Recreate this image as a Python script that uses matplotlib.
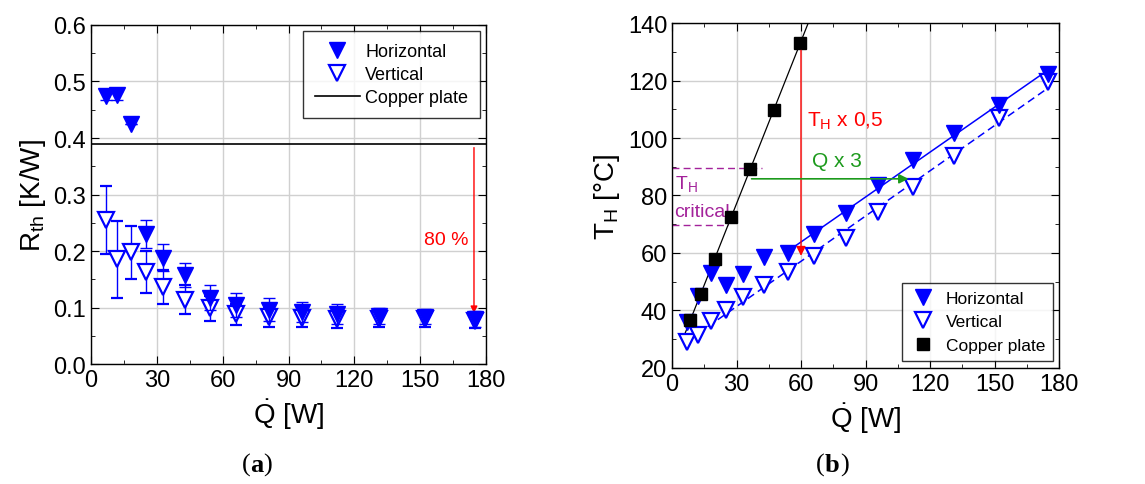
import numpy as np
import matplotlib
matplotlib.use("Agg")
import matplotlib.pyplot as plt
from matplotlib.ticker import MultipleLocator
from matplotlib.lines import Line2D

plt.rcParams['font.family'] = ['Liberation Sans', 'DejaVu Sans']
plt.rcParams['mathtext.fontset'] = 'custom'
plt.rcParams['mathtext.rm'] = 'Liberation Sans'
plt.rcParams['mathtext.it'] = 'Liberation Sans'

# ---- panel (a): thermal resistance ----
q_hor_a = [7, 12, 18, 25, 33, 43, 54, 66, 81, 96, 112, 131, 152, 175]
r_hor = [0.475, 0.476, 0.425, 0.23, 0.188, 0.158, 0.117, 0.105, 0.096, 0.092,
         0.089, 0.085, 0.084, 0.08]
r_hor_err = [0.008, 0.008, 0.0, 0.025, 0.024, 0.021, 0.022, 0.021, 0.02, 0.018,
             0.018, 0.015, 0.014, 0.014]
q_ver_a = [7, 12, 18, 25, 33, 43, 54, 66, 81, 96, 112, 131, 152, 175]
r_ver = [0.255, 0.185, 0.198, 0.163, 0.137, 0.114, 0.099, 0.088, 0.083, 0.082,
         0.08, 0.079, 0.079, 0.077]
r_ver_err = [0.06, 0.068, 0.047, 0.037, 0.03, 0.025, 0.022, 0.019, 0.018, 0.017,
             0.016, 0.014, 0.013, 0.013]
r_copper = 0.39

# ---- panel (b): heater temperature ----
q_hor_b = [7, 12, 18, 25, 33, 43, 54, 66, 81, 96, 112, 131, 152, 175]
t_hor = [36, 45, 53, 49, 52.7, 58.5, 60, 66.5, 74, 83.5, 92.5, 101.7, 111.6, 122.4]
q_ver_b = [7, 12, 18, 25, 33, 43, 54, 66, 81, 96, 112, 131, 152, 175]
t_ver = [29, 31.5, 36.5, 40.3, 44.8, 48.7, 53.3, 58.8, 65.3, 74.2, 83, 93.9, 107, 119.5]
q_cu = [8.5, 13.5, 20, 27.3, 36.5, 47.3, 59.7]
t_cu = [36.8, 45.8, 58, 72.5, 89.3, 109.8, 133]

BLUE = '#0000ff'


def style_axes(ax):
    ax.tick_params(which='both', direction='in', top=True, right=True,
                   labelsize=17)
    ax.tick_params(which='major', length=6)
    ax.tick_params(which='minor', length=3)
    ax.grid(True, which='major', color='#d0d0d0', lw=1)
    ax.set_axisbelow(True)
    for s in ax.spines.values():
        s.set_linewidth(1.0)


def caption(x, letter):
    fig.text(x, 0.04, '(', fontsize=19, family='Liberation Serif', ha='right', va='center')
    t = fig.text(x, 0.04, letter, fontsize=19, family='Liberation Serif', weight='bold',
                 ha='left', va='center')
    fig.canvas.draw()
    bb = t.get_window_extent().transformed(fig.transFigure.inverted())
    fig.text(bb.x1, 0.04, ')', fontsize=19, family='Liberation Serif', ha='left', va='center')


fig = plt.figure(figsize=(11.45, 4.85), dpi=100)

# panel (a)
ax1 = fig.add_axes([0.0795, 0.2474, 0.345, 0.699])
ax1.axhline(r_copper, color='black', lw=1.2, zorder=2)
ax1.errorbar(q_hor_a, r_hor, yerr=r_hor_err, fmt='v', color=BLUE, ms=11,
             capsize=4, elinewidth=1, zorder=4)
ax1.errorbar(q_ver_a, r_ver, yerr=r_ver_err, fmt='v', color=BLUE, mfc='white',
             mew=1.6, ms=11, capsize=4, elinewidth=1, zorder=3)
ax1.annotate('', xy=(174.5, 0.09), xytext=(174.5, 0.383),
             arrowprops=dict(arrowstyle='-|>', color='red', lw=1,
                             mutation_scale=10, shrinkA=0, shrinkB=0))
ax1.text(172, 0.22, '80 %', color='red', fontsize=14, ha='right', va='center')
ax1.set_xlim(0, 180)
ax1.set_ylim(0, 0.6)
ax1.xaxis.set_major_locator(MultipleLocator(30))
ax1.xaxis.set_minor_locator(MultipleLocator(15))
ax1.yaxis.set_major_locator(MultipleLocator(0.1))
ax1.yaxis.set_minor_locator(MultipleLocator(0.05))
ax1.yaxis.set_major_formatter(matplotlib.ticker.FormatStrFormatter('%.1f'))
style_axes(ax1)
ax1.set_xlabel(r'$\dot{\mathrm{Q}}$ [W]', fontsize=20)
ax1.set_ylabel(r'R$_{\mathrm{th}}$ [K/W]', fontsize=20)
h1 = [Line2D([], [], marker='v', color=BLUE, ms=12, ls='none'),
      Line2D([], [], marker='v', color=BLUE, mfc='white', mew=1.6, ms=11, ls='none'),
      Line2D([], [], color='black', lw=1.2)]
leg1 = ax1.legend(h1, ['Horizontal', 'Vertical', 'Copper plate'], loc='upper right',
                  fontsize=13, frameon=True, fancybox=False, edgecolor='black',
                  handlelength=2.5, handletextpad=0.3, borderpad=0.65, labelspacing=0.35,
                  borderaxespad=0, bbox_to_anchor=(0.985, 0.982))
leg1.get_frame().set_linewidth(1.0)

# panel (b)
ax2 = fig.add_axes([0.5869, 0.2392, 0.338, 0.7113])
p_cu = np.polyfit(q_cu, t_cu, 1)
x_cu = np.array([6, 70])
ax2.plot(x_cu, np.polyval(p_cu, x_cu), color='black', lw=0.9, zorder=2)
hsel = [i for i, q in enumerate(q_hor_b) if q >= 54]
p_h = np.polyfit([q_hor_b[i] for i in hsel], [t_hor[i] for i in hsel], 1)
x_h = np.array([56, 175])
ax2.plot(x_h, np.polyval(p_h, x_h), color=BLUE, lw=1.1, zorder=2)
vsel = [i for i, q in enumerate(q_ver_b) if q >= 12]
p_v = np.polyfit([q_ver_b[i] for i in vsel], [t_ver[i] for i in vsel], 1)
x_v = np.array([12, 175])
ax2.plot(x_v, np.polyval(p_v, x_v), color=BLUE, lw=1.1, ls=(0, (5, 3)), zorder=2)

ax2.plot(q_hor_b, t_hor, 'v', color=BLUE, ms=12, ls='none', label='Horizontal', zorder=4)
ax2.plot(q_ver_b, t_ver, 'v', color=BLUE, mfc='white', mew=1.6, ms=11, ls='none',
         label='Vertical', zorder=3)
ax2.plot(q_cu, t_cu, 's', color='black', ms=9, ls='none', label='Copper plate', zorder=5)

# critical temperature band
PURPLE = '#a3229a'
ax2.plot([0, 42], [89.6, 89.6], color=PURPLE, lw=1, ls=(0, (5, 3)), zorder=1)
ax2.plot([0, 26], [69.6, 69.6], color=PURPLE, lw=1, ls=(0, (5, 3)), zorder=1)
ax2.text(1.5, 84.5, r'T$_{\mathrm{H}}$', color=PURPLE, fontsize=14, va='center')
ax2.text(1.0, 74.5, 'critical', color=PURPLE, fontsize=14, va='center')

ax2.annotate('', xy=(60, 59), xytext=(60, 130.5),
             arrowprops=dict(arrowstyle='-|>', color='red', lw=1,
                             mutation_scale=14, shrinkA=0, shrinkB=0), zorder=6)
ax2.text(63, 106, r'T$_{\mathrm{H}}$ x 0,5', color='red', fontsize=15, va='center')
ax2.annotate('', xy=(110, 85.8), xytext=(37, 85.8),
             arrowprops=dict(arrowstyle='-|>', color='#1c9a1c', lw=1.2,
                             mutation_scale=14, shrinkA=0, shrinkB=0), zorder=6)
ax2.text(65, 92, 'Q x 3', color='#1c9a1c', fontsize=15, va='center')

ax2.set_xlim(0, 180)
ax2.set_ylim(20, 140)
ax2.xaxis.set_major_locator(MultipleLocator(30))
ax2.xaxis.set_minor_locator(MultipleLocator(15))
ax2.yaxis.set_major_locator(MultipleLocator(20))
ax2.yaxis.set_minor_locator(MultipleLocator(10))
style_axes(ax2)
ax2.set_xlabel(r'$\dot{\mathrm{Q}}$ [W]', fontsize=20)
ax2.set_ylabel(r'T$_{\mathrm{H}}$ [°C]', fontsize=20)
leg2 = ax2.legend(loc='lower right', fontsize=12.5, frameon=True, fancybox=False,
                  edgecolor='black', handlelength=1.5, handletextpad=0.6, borderpad=0.45,
                  labelspacing=0.5, borderaxespad=0, bbox_to_anchor=(0.985, 0.02))
leg2.get_frame().set_linewidth(1.0)

# panel captions
caption(0.2185, 'a')
caption(0.7205, 'b')

fig.savefig('out.png', dpi=100)
